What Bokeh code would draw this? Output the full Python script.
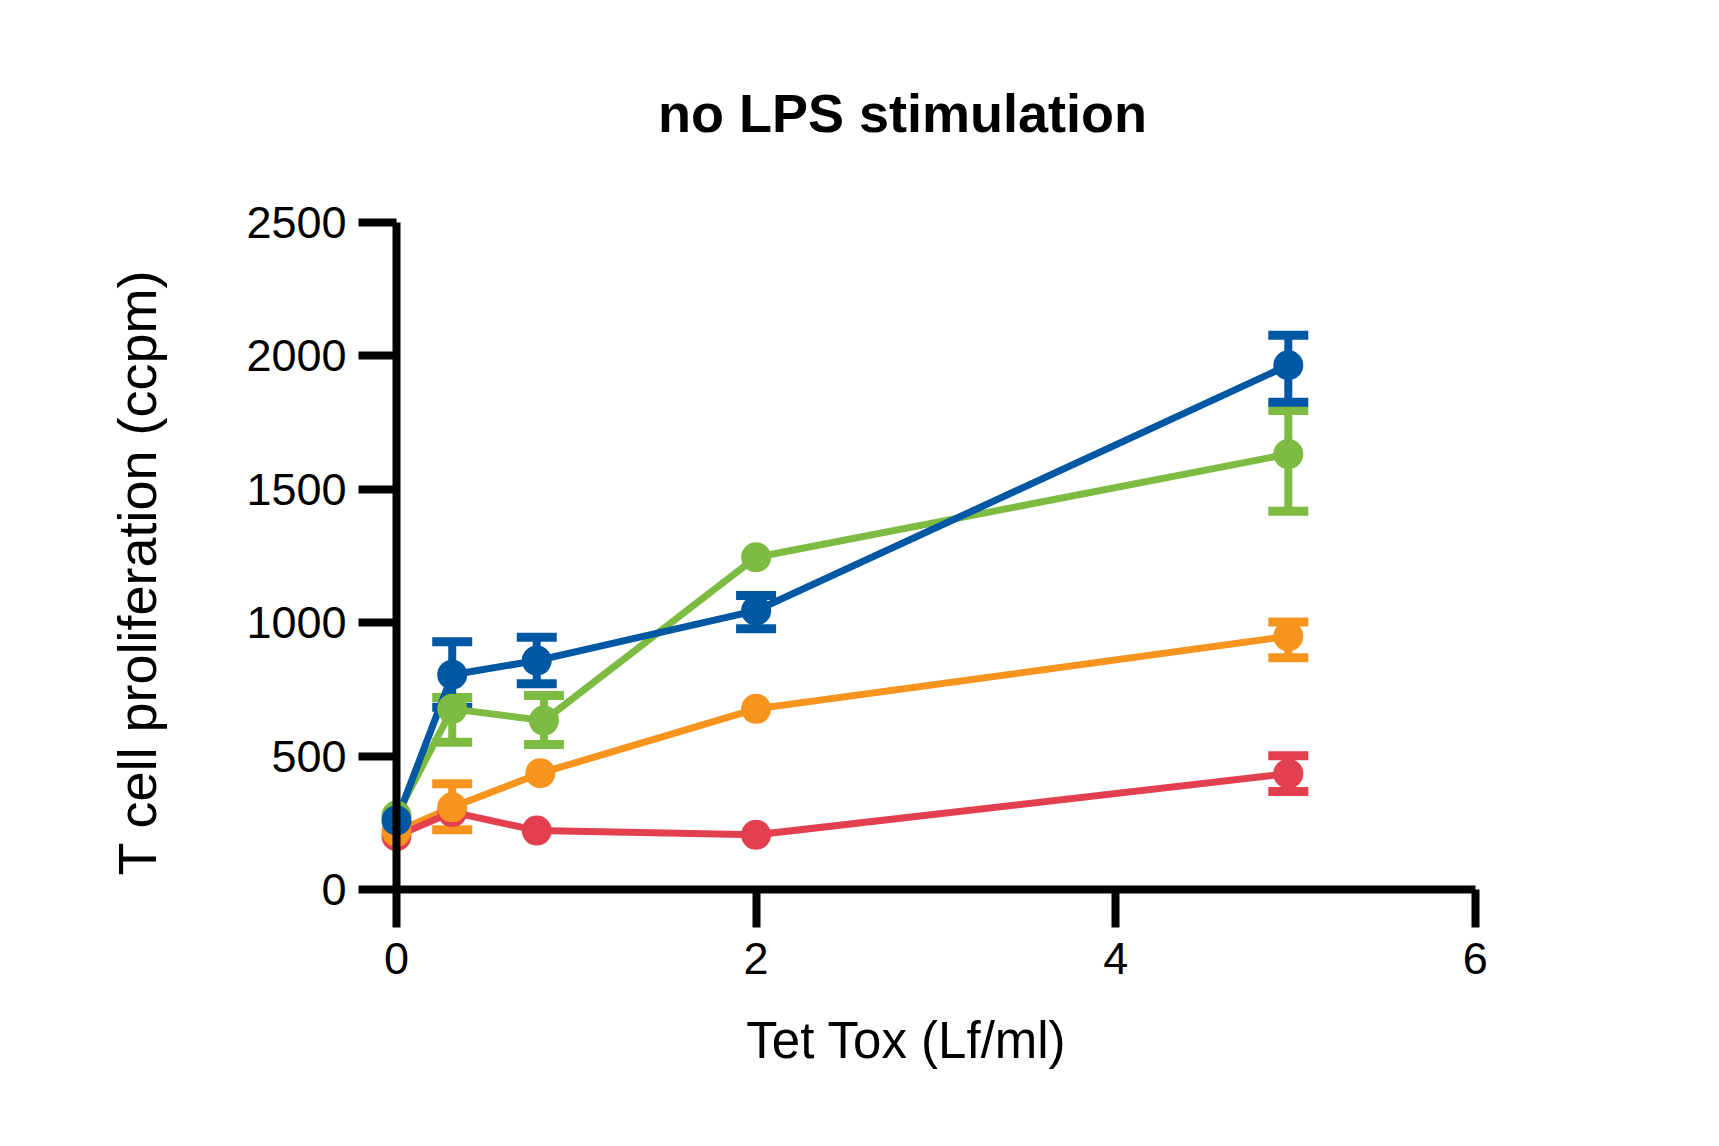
import math
from bokeh.plotting import figure
from bokeh.models import Range1d, Whisker, TeeHead, ColumnDataSource, FixedTicker, Label
from bokeh.embed import file_html
from bokeh.resources import INLINE

# Tet Tox concentration (Lf/ml) per series
x_blue = [0, 0.31, 0.78, 2, 4.96]
x_green = [0, 0.31, 0.82, 2, 4.96]
x_orange = [0, 0.31, 0.80, 2, 4.96]
x_red = [0, 0.31, 0.78, 2, 4.96]

# T cell proliferation (ccpm): mean, lower and upper error limits
y_blue = [259, 805, 858, 1045, 1965]
lo_blue = [259, 683, 771, 977, 1826]
hi_blue = [259, 929, 945, 1102, 2077]

y_green = [277, 677, 633, 1245, 1632]
lo_green = [277, 552, 543, 1245, 1418]
hi_green = [277, 720, 727, 1245, 1795]

y_orange = [217, 308, 436, 677, 949]
lo_orange = [217, 224, 436, 677, 869]
hi_orange = [217, 396, 436, 677, 1003]

y_red = [200, 290, 221, 205, 434]
lo_red = [200, 290, 221, 205, 367]
hi_red = [200, 290, 221, 205, 501]

x_ticks = [0, 2, 4, 6]
y_ticks = [0, 500, 1000, 1500, 2000, 2500]

TITLE = "no LPS stimulation"
X_LABEL = "Tet Tox (Lf/ml)"
Y_LABEL = "T cell proliferation (ccpm)"

BLUE = "#0057a4"
GREEN = "#7dbb42"
ORANGE = "#f7941e"
RED = "#e2404f"
FONT = "Liberation Sans"

series = {
    "blue": (x_blue, y_blue, lo_blue, hi_blue, BLUE),
    "green": (x_green, y_green, lo_green, hi_green, GREEN),
    "orange": (x_orange, y_orange, lo_orange, hi_orange, ORANGE),
    "red": (x_red, y_red, lo_red, hi_red, RED),
}
sources = {}
err_sources = {}
for k, (xs, ys, lo, hi, _) in series.items():
    sources[k] = ColumnDataSource(dict(x=xs, y=ys))
    keep = [i for i in range(len(xs)) if hi[i] > lo[i]]
    err_sources[k] = ColumnDataSource(dict(
        x=[xs[i] for i in keep], lo=[lo[i] for i in keep], hi=[hi[i] for i in keep]))

# the frame covers the whole canvas; the axes sit at the data origin
p = figure(
    width=1719, height=1146,
    x_range=Range1d(-2.2024, 7.3582), y_range=Range1d(-963.3, 3332.1),
    output_backend="svg", toolbar_location=None,
)
p.min_border = 0
p.outline_line_color = None
p.grid.visible = False
p.background_fill_color = "white"
p.border_fill_color = "white"

# connecting lines
for k in ["green", "orange", "red", "blue"]:
    p.line("x", "y", source=sources[k], line_color=series[k][4], line_width=7)

# symbols
for k in ["red", "orange", "green", "blue"]:
    p.scatter("x", "y", source=sources[k], size=30, fill_color=series[k][4],
              line_color=None)

# error bars
for k in ["red", "orange", "green", "blue"]:
    c = series[k][4]
    p.add_layout(Whisker(
        source=err_sources[k], base="x", lower="lo", upper="hi",
        line_color=c, line_width=8,
        upper_head=TeeHead(size=40, line_color=c, line_width=9),
        lower_head=TeeHead(size=40, line_color=c, line_width=9),
    ))

for ax, ticks, bounds in ((p.xaxis[0], x_ticks, (0, 6)), (p.yaxis[0], y_ticks, (0, 2500))):
    ax.ticker = FixedTicker(ticks=ticks)
    ax.bounds = bounds
    ax.fixed_location = 0
    ax.axis_line_width = 8
    ax.axis_line_color = "black"
    ax.major_tick_line_width = 8
    ax.major_tick_line_color = "black"
    ax.major_tick_out = 38
    ax.major_tick_in = 0
    ax.minor_tick_line_color = None
    ax.major_label_text_font = FONT
    ax.major_label_text_font_size = "45px"
    ax.major_label_text_color = "black"
p.xaxis.major_label_standoff = 16
p.yaxis.major_label_standoff = 12

# title and axis titles
p.add_layout(Label(x=2.814, y=2912, text=TITLE, text_align="center",
                   text_baseline="alphabetic", text_font=FONT,
                   text_font_size="54px", text_font_style="bold",
                   text_color="black"))
p.add_layout(Label(x=2.836, y=-566, text=X_LABEL, text_align="center",
                   text_baseline="alphabetic", text_font=FONT,
                   text_font_size="51px", text_color="black"))
p.add_layout(Label(x=-1.445, y=1188, text=Y_LABEL, angle=math.pi / 2,
                   text_align="center", text_baseline="alphabetic",
                   text_font=FONT, text_font_size="54px", text_color="black"))

open("out.html", "w").write(file_html(p, INLINE))
